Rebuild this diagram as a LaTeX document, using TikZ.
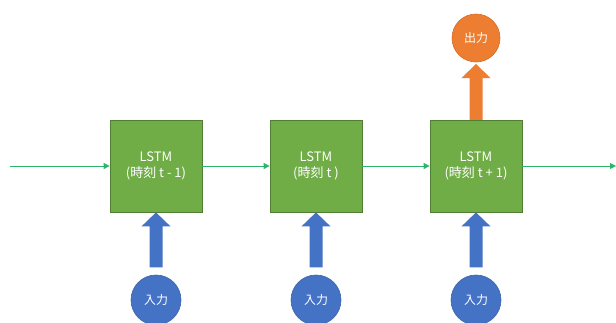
\documentclass[tikz,border=0pt]{standalone}
\usepackage{fontspec}
\setmainfont{Noto Sans CJK JP}
\usetikzlibrary{arrows.meta,calc}
\definecolor{cellgreen}{HTML}{70AD47}
\definecolor{cellborder}{HTML}{507E32}
\definecolor{inblue}{HTML}{4472C4}
\definecolor{inborder}{HTML}{3A62AA}
\definecolor{outorange}{HTML}{ED7D31}
\definecolor{outborder}{HTML}{D56C24}
\definecolor{flow}{HTML}{2DB46A}
\tikzset{
  cell/.style={draw=cellborder, line width=0.8pt, fill=cellgreen, minimum size=92pt,
    inner sep=0pt, text=white, align=center, font=\fontsize{13}{15.5}\selectfont},
  inputnode/.style={circle, draw=inborder, line width=0.6pt, fill=inblue, minimum size=50pt,
    inner sep=0pt, text=white, font=\fontsize{12}{13}\selectfont},
  outputnode/.style={circle, draw=outborder, line width=0.6pt, fill=outorange, minimum size=48pt,
    inner sep=0pt, text=white, font=\fontsize{12}{13}\selectfont},
  flowline/.style={draw=flow, line width=0.8pt, -{Triangle[length=6pt,width=6pt]}},
}
% upward block arrow: #2 tip, #3 shaft length below the head
\newcommand{\uparrowblock}[3]{%
  \fill[#1] (#2) -- ($(#2)+(14.5,14)$) -- ($(#2)+(6.5,14)$) -- ($(#2)+(6.5,14+#3)$)
    -- ($(#2)+(-6.5,14+#3)$) -- ($(#2)+(-6.5,14)$) -- ($(#2)+(-14.5,14)$) -- cycle;}
\begin{document}
\begin{tikzpicture}[x=1pt,y=-1pt]
  \useasboundingbox (0,0) rectangle (616,322);
  % block arrow from last cell to output (under the cell border)
  \coordinate (otip) at (476,64);
  \uparrowblock{outorange}{otip}{43}
  % LSTM cells
  \node[cell] (c1) at (156,166) {LSTM\\(時刻 t - 1)};
  \node[cell] (c2) at (316,166) {LSTM\\(時刻 t )};
  \node[cell] (c3) at (476,166) {LSTM\\(時刻 t + 1)};
  % inputs and output
  \node[inputnode] (i1) at (156,300) {入力};
  \node[inputnode] (i2) at (316,300) {入力};
  \node[inputnode] (i3) at (476,300) {入力};
  \node[outputnode] (o3) at (476,38) {出力};
  % hidden state flow
  \coordinate (start) at (10,166);
  \coordinate (stop) at (616,166);
  \draw[flowline] (start) -- (c1.west);
  \draw[flowline] (c1.east) -- (c2.west);
  \draw[flowline] (c2.east) -- (c3.west);
  \draw[flowline] (c3.east) -- (stop);
  % block arrows from inputs into cells
  \foreach \k in {1,2,3}{
    \uparrowblock{inblue}{c\k.south}{41}
  }
\end{tikzpicture}
\end{document}
